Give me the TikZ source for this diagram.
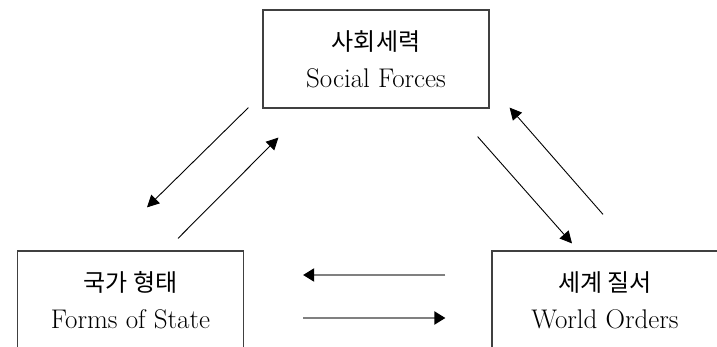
\documentclass[tikz,border=0pt]{standalone}
\usepackage{fontspec}
\newfontfamily\kr{Noto Sans CJK KR}
\usetikzlibrary{arrows.meta}

\newcommand{\boxtext}[2]{{\kr\fontsize{24}{37}\selectfont #1}\\#2}

\tikzset{
  box/.style={draw=black!75, line width=1.2pt, minimum width=226pt, minimum height=98pt,
    inner sep=0pt, align=center, font=\fontsize{27}{37}\selectfont},
  diag/.style={line width=0.9pt, -{Triangle[length=12pt,width=12pt]}},
  flat/.style={draw=black!50, line width=2pt, -{Triangle[length=11pt,width=13pt,color=black]}}
}

\begin{document}
\begin{tikzpicture}[x=1pt,y=-1pt]
			\useasboundingbox (0,0) rectangle (717,347);
			
			\node[box] (social) at (376,59) {\boxtext{사회세력}{Social Forces}};
			\node[box] (forms) at (130.5,300) {\boxtext{국가 형태}{Forms of State}};
			\node[box] (world) at (605,300) {\boxtext{세계 질서}{World Orders}};
			
			\draw[diag] ([shift={(-14,-1)}]social.south west) -- ([shift={(16.5,-43)}]forms.north);
			\draw[diag] ([shift={(47.5,-12)}]forms.north) -- ([shift={(16,29)}]social.south west);
			
			\draw[diag] ([shift={(-12,28)}]social.south east) -- ([shift={(-33,-7)}]world.north);
			\draw[diag] ([shift={(-2,-36)}]world.north) -- ([shift={(20,-1)}]social.south east);
			
			\draw[flat] ([shift={(-46,-25)}]world.west) -- ([shift={(59,-25)}]forms.east);
			\draw[flat] ([shift={(59,18)}]forms.east) -- ([shift={(-46,18)}]world.west);
		\end{tikzpicture}
\end{document}
